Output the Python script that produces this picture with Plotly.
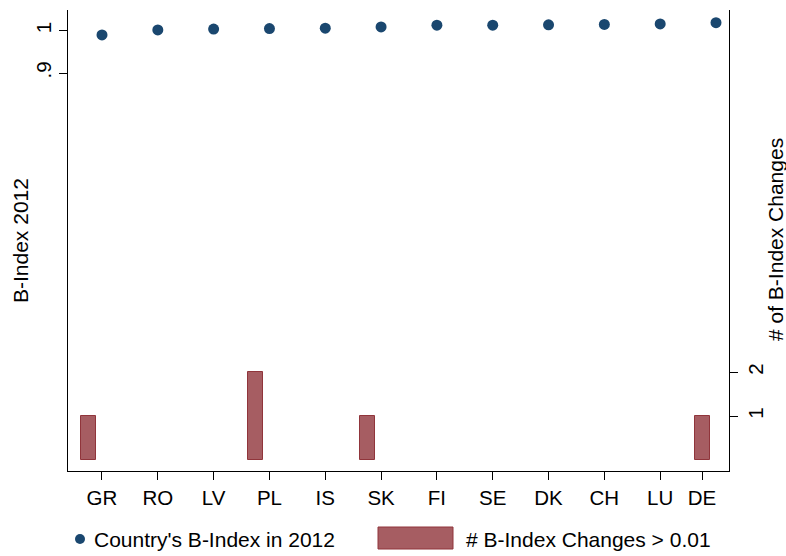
import plotly.graph_objects as go

# Country codes, ordered by their 2012 B-Index
countries = ["GR", "RO", "LV", "PL", "IS", "SK", "FI", "SE", "DK", "CH", "LU", "DE"]
# B-Index per country in 2012
b_index_2012 = [0.990, 1.002, 1.004, 1.005, 1.006, 1.009, 1.013, 1.013, 1.014, 1.015, 1.016, 1.019]
# Number of B-Index changes larger than 0.01
n_changes = [1, 0, 0, 2, 0, 1, 0, 0, 0, 0, 0, 1]
# Category positions on the x axis and where their labels sit
positions = list(range(1, len(countries) + 1))
label_positions = [1, 2, 3, 4, 5, 6, 7, 8, 9, 10, 11, 11.75]

NAVY = "#1A476F"
MAROON = "#90353B"
MAROON_FILL = "rgba(144,53,59,0.8)"
FONT = "Liberation Sans, Arial, Helvetica, sans-serif"
TEXT_SIZE = 21

# Plot-area geometry in pixels (used for the hand-placed legend and titles)
W, H = 786, 556
L, R, T, B = 68, 729, 10, 471


def px_x(px):
    return (px - L) / (R - L)


def px_y(py):
    return (B - py) / (B - T)


fig = go.Figure()

# Outline only the bars that have height, so empty categories stay blank
fig.add_trace(go.Bar(
    x=positions,
    y=n_changes,
    width=0.27,
    offset=-0.385,
    marker=dict(
        color=MAROON_FILL,
        line=dict(color=MAROON, width=[1 if v > 0 else 0 for v in n_changes]),
    ),
    yaxis="y2",
    showlegend=False,
    hoverinfo="skip",
))

fig.add_trace(go.Scatter(
    x=positions,
    y=b_index_2012,
    mode="markers",
    marker=dict(color=NAVY, size=11),
    showlegend=False,
))

axis_common = dict(
    showline=True, linecolor="black", linewidth=1.3,
    ticks="outside", ticklen=8, tickcolor="black", tickwidth=1.3,
    showgrid=False, zeroline=False,
    tickfont=dict(family=FONT, size=20.5, color="black"),
)

fig.update_layout(
    width=W, height=H,
    margin=dict(l=L, r=W - R, t=T, b=H - B),
    paper_bgcolor="white", plot_bgcolor="white",
    bargap=0,
    xaxis=dict(
        range=[0.391, 12.233],
        tickmode="array", tickvals=label_positions, ticktext=countries,
        **axis_common,
    ),
    yaxis=dict(
        range=[-0.041, 1.049],
        tickmode="array", tickvals=[0.9, 1.0], ticktext=[".9", "1"],
        tickangle=-90,
        **axis_common,
    ),
    yaxis2=dict(
        range=[-0.25, 10.23],
        overlaying="y", side="right", anchor="x",
        tickmode="array", tickvals=[1, 2], ticktext=["1", "2"],
        tickangle=-90,
        **axis_common,
    ),
    font=dict(family=FONT, size=TEXT_SIZE, color="black"),
)

# Axis titles
fig.add_annotation(
    text="B-Index 2012", textangle=-90,
    xref="paper", yref="paper", x=px_x(20), y=px_y(241),
    xanchor="center", yanchor="middle", showarrow=False,
    font=dict(family=FONT, size=TEXT_SIZE, color="black"),
)
fig.add_annotation(
    text="# of B-Index Changes", textangle=-90,
    xref="paper", yref="paper", x=px_x(775), y=px_y(240),
    xanchor="center", yanchor="middle", showarrow=False,
    font=dict(family=FONT, size=TEXT_SIZE, color="black"),
)

# Legend row below the plot
fig.add_shape(
    type="circle", xref="paper", yref="paper",
    x0=px_x(75), x1=px_x(85), y0=px_y(544), y1=px_y(534),
    fillcolor=NAVY, line=dict(color=NAVY, width=0),
)
fig.add_annotation(
    text="Country's B-Index in 2012",
    xref="paper", yref="paper", x=px_x(92), y=px_y(539),
    xanchor="left", yanchor="middle", showarrow=False,
    font=dict(family=FONT, size=TEXT_SIZE, color="black"),
)
fig.add_shape(
    type="rect", xref="paper", yref="paper",
    x0=px_x(378), x1=px_x(453), y0=px_y(549), y1=px_y(527),
    fillcolor=MAROON_FILL, line=dict(color=MAROON, width=1),
)
fig.add_annotation(
    text="# B-Index Changes > 0.01",
    xref="paper", yref="paper", x=px_x(464), y=px_y(539),
    xanchor="left", yanchor="middle", showarrow=False,
    font=dict(family=FONT, size=TEXT_SIZE, color="black"),
)

fig.write_html("out.html")
